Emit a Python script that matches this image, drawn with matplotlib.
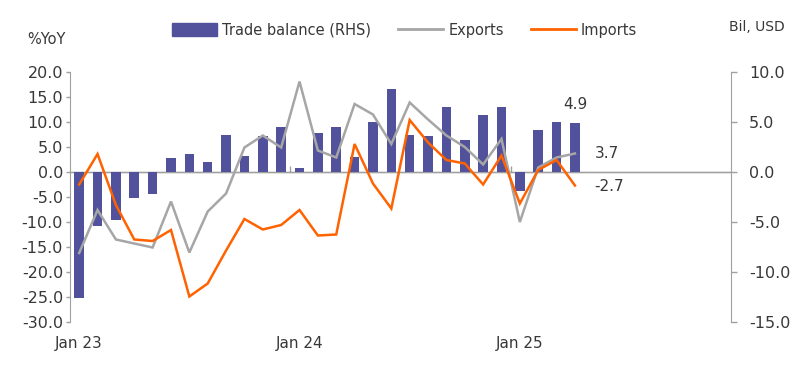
import matplotlib

matplotlib.use("Agg")
import matplotlib.pyplot as plt
from matplotlib.lines import Line2D
from matplotlib.patches import Patch
import numpy as np
import pandas as pd


months = pd.period_range("2023-01", "2025-04", freq="M")
n_slots = 36  # axis runs to Dec 25

trade_balance = [-12.6, -5.4, -4.8, -2.6, -2.2, 1.4, 1.8, 1.05, 3.7, 1.65, 3.65, 4.5,
                 0.4, 3.9, 4.5, 1.5, 5.0, 8.3, 3.75, 3.65, 6.5, 3.25, 5.7, 6.5,
                 -1.9, 4.25, 5.0, 4.9]
exports = [-16.2, -7.6, -13.5, -14.3, -15.1, -5.9, -16.1, -7.9, -4.3, 4.9, 7.3, 4.9,
           18.1, 4.3, 2.9, 13.6, 11.5, 5.6, 13.9, 10.5, 7.3, 5.0, 1.5, 6.6,
           -10.0, 0.9, 2.9, 3.7]
imports = [-2.5, 3.6, -6.6, -13.5, -13.8, -11.6, -24.9, -22.3, -15.7, -9.4, -11.5, -10.6,
           -7.6, -12.7, -12.5, 5.6, -2.3, -7.3, 10.4, 5.9, 2.4, 1.7, -2.5, 3.3,
           -6.3, 0.4, 2.4, -2.7]

tick_pos = [0, 12, 24]
tick_labels = ["Jan 23", "Jan 24", "Jan 25"]

BAR = "#52519B"
GREY = "#A6A6A6"
ORANGE = "#FF6200"
TEXT = "#383838"
AXIS = "#A0A0A0"

plt.rcParams["font.family"] = ["DejaVu Sans"]
plt.rcParams["font.size"] = 10.5
plt.rcParams["axes.unicode_minus"] = False

fig = plt.figure(figsize=(8, 3.68), dpi=100)
ax = fig.add_axes([70 / 800, 46 / 368, 661 / 800, 250 / 368])
ax_r = ax.twinx()
ax.set_zorder(ax_r.get_zorder() + 1)
ax.patch.set_visible(False)

x = np.arange(len(months))
ax_r.bar(x, trade_balance, width=0.52, color=BAR, zorder=3)
ax.plot(x, exports, color=GREY, lw=1.8, solid_joinstyle="miter")
ax.plot(x, imports, color=ORANGE, lw=1.8, solid_joinstyle="miter")

ax.set_xlim(-0.5, n_slots - 0.5)
ax.set_ylim(-30, 20)
ax_r.set_ylim(-15, 10)
ax.set_yticks(np.arange(-30, 21, 5))
ax_r.set_yticks(np.arange(-15, 11, 5))
ax.yaxis.set_major_formatter(matplotlib.ticker.FormatStrFormatter("%.1f"))
ax_r.yaxis.set_major_formatter(matplotlib.ticker.FormatStrFormatter("%.1f"))

ax.set_xticks(tick_pos)
ax.set_xticklabels(tick_labels)
ax.tick_params(axis="x", length=0, pad=10, colors=TEXT, labelsize=11)
ax.tick_params(axis="y", length=3, width=1, color=AXIS, labelcolor=TEXT, pad=2, labelsize=11.5)
ax_r.tick_params(axis="y", length=4, width=1, color=AXIS, labelcolor=TEXT, pad=9, labelsize=11.5)

for a in (ax, ax_r):
    for side in ("top", "bottom"):
        a.spines[side].set_visible(False)
ax.spines["right"].set_visible(False)
ax_r.spines["left"].set_visible(False)
ax.spines["left"].set_color(AXIS)
ax_r.spines["right"].set_color(AXIS)

# zero line (sits under the bars) with year separators
ax_r.axhline(0, color=AXIS, lw=1, zorder=1)
zero = ax_r.secondary_xaxis(15 / 25)
zero.set_xticks([11.5, 23.5])
zero.set_xticklabels([])
zero.tick_params(direction="out", length=4, color=AXIS, width=1)
zero.spines["bottom"].set_visible(False)

ax_r.annotate(f"{trade_balance[-1]:.1f}", (x[-1], trade_balance[-1]), xytext=(0, 8),
              textcoords="offset points", ha="center", va="bottom", color=TEXT, fontsize=11)
ax.annotate(f"{exports[-1]:.1f}", (x[-1], exports[-1]), xytext=(14, 0),
            textcoords="offset points", ha="left", va="center", color=TEXT, fontsize=11)
ax.annotate(f"{imports[-1]:.1f}", (x[-1], imports[-1]), xytext=(14, -1),
            textcoords="offset points", ha="left", va="center", color=TEXT, fontsize=11)

fig.text(46 / 800, 1 - 40 / 368, "%YoY", ha="center", va="center", color=TEXT)
fig.text(757 / 800, 1 - 27 / 368, "Bil, USD", ha="center", va="center", color=TEXT, fontsize=10)

handles = [Patch(color=BAR), Line2D([], [], color=GREY, lw=2), Line2D([], [], color=ORANGE, lw=2)]
fig.legend(handles, ["Trade balance (RHS)", "Exports", "Imports"], ncol=3, frameon=False,
           loc="center left", bbox_to_anchor=(172 / 800, 1 - 30 / 368), handlelength=3.1,
           handleheight=0.9, handletextpad=0.34, columnspacing=1.85, labelcolor=TEXT,
           borderpad=0, borderaxespad=0)

fig.savefig("out.png", dpi=100)
